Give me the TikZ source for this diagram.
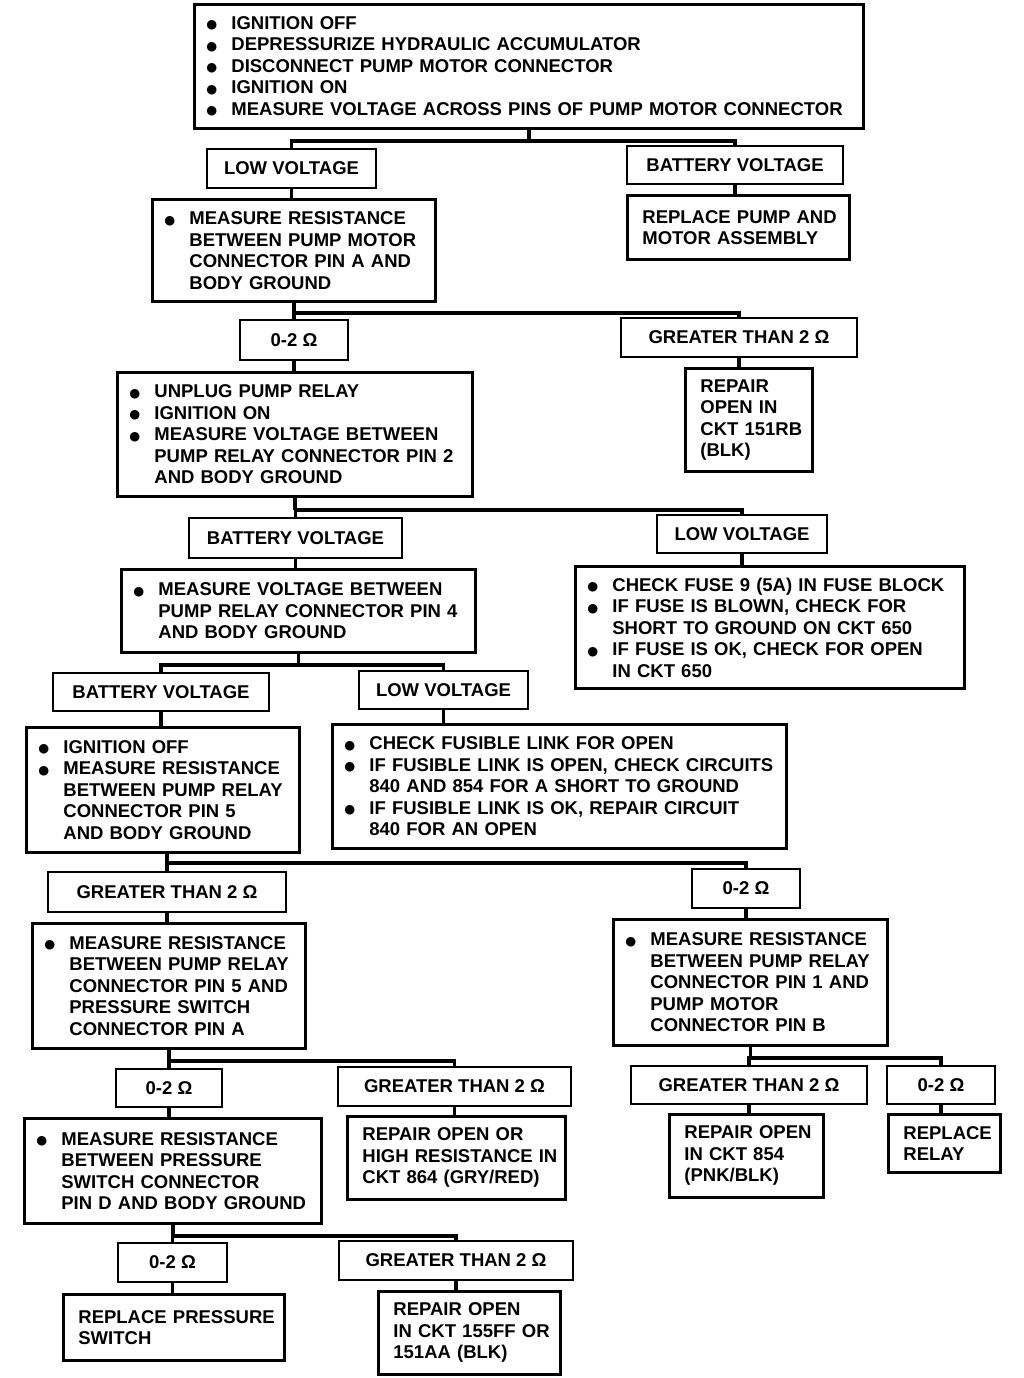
\documentclass[tikz,border=0pt]{standalone}
\usepackage{fontspec}
\setmainfont{Liberation Sans}
\newfontfamily\symfont{DejaVu Sans}
\newcommand{\dfont}{\fontsize{18.5}{21.5}\selectfont\bfseries}
\newcommand{\bul}{\makebox[25pt][l]{\raisebox{0.5pt}{\fontsize{12.5}{12.5}\selectfont\symfont ●}}}
\newcommand{\ind}{\hspace*{25pt}}
\tikzset{
  box/.style={draw, line width=2.8pt, anchor=north west, align=left,
    inner xsep=12pt, inner ysep=0pt, font=\dfont,
    execute at begin node={\rightskip=-40pt plus 1fil\hyphenpenalty=10000\relax}},
  note/.style={box, inner xsep=15pt},
  lab/.style={draw, line width=2.8pt, inner sep=0pt, font=\dfont},
  link/.style={line width=3.6pt}
}
\begin{document}
\begin{tikzpicture}[x=1pt,y=-1pt]
\fill[white](0,0) rectangle (1024,1378);
\useasboundingbox(0,0) rectangle (1024,1378);
% first step
\node[box, text width=645pt, minimum height=124pt] (top) at (193,3)
  {\bul IGNITION OFF\\
   \bul DEPRESSURIZE HYDRAULIC ACCUMULATOR\\
   \bul DISCONNECT PUMP MOTOR CONNECTOR\\
   \bul IGNITION ON\\
   \bul MEASURE VOLTAGE ACROSS PINS OF PUMP MOTOR CONNECTOR};
\node[lab, minimum width=169pt, minimum height=39pt] (lv1) at (291.5,168.5) {LOW VOLTAGE};
\node[lab, minimum width=216pt, minimum height=38pt] (bv1) at (735,165) {BATTERY VOLTAGE};
\node[box, text width=259pt, minimum height=102pt] (m1) at (151,198)
  {\bul MEASURE RESISTANCE\\
   \ind BETWEEN PUMP MOTOR\\
   \ind CONNECTOR PIN A AND\\
   \ind BODY GROUND};
\node[note, text width=192pt, minimum height=64pt] (r1) at (626,194)
  {REPLACE PUMP AND\\ MOTOR ASSEMBLY};
% pin A
\node[lab, minimum width=108pt, minimum height=40pt] (lo1) at (294,340) {0-2 Ω};
\node[lab, minimum width=236pt, minimum height=39pt] (hi1) at (739,337.5) {GREATER THAN 2 Ω};
\node[box, text width=331pt, minimum height=124pt] (m2) at (116,371)
  {\bul UNPLUG PUMP RELAY\\
   \bul IGNITION ON\\
   \bul MEASURE VOLTAGE BETWEEN\\
   \ind PUMP RELAY CONNECTOR PIN 2\\
   \ind AND BODY GROUND};
\node[note, text width=97pt, minimum height=103pt] (r2) at (684,367)
  {REPAIR\\ OPEN IN\\ CKT 151RB\\ (BLK)};
% pin 2
\node[lab, minimum width=213pt, minimum height=40pt] (bv2) at (295.5,538) {BATTERY VOLTAGE};
\node[lab, minimum width=170pt, minimum height=38pt] (lv2) at (742,534) {LOW VOLTAGE};
\node[box, text width=330pt, minimum height=83pt] (m3) at (120,568)
  {\bul MEASURE VOLTAGE BETWEEN\\
   \ind PUMP RELAY CONNECTOR PIN 4\\
   \ind AND BODY GROUND};
\node[box, text width=365pt, minimum height=122pt] (f1) at (574,565)
  {\bul CHECK FUSE 9 (5A) IN FUSE BLOCK\\
   \bul IF FUSE IS BLOWN, CHECK FOR\\
   \ind SHORT TO GROUND ON CKT 650\\
   \bul IF FUSE IS OK, CHECK FOR OPEN\\
   \ind IN CKT 650};
% pin 4
\node[lab, minimum width=216pt, minimum height=38pt] (bv3) at (161,692) {BATTERY VOLTAGE};
\node[lab, minimum width=169pt, minimum height=38pt] (lv3) at (443.5,690) {LOW VOLTAGE};
\node[box, text width=249pt, minimum height=125pt] (m4) at (25,726)
  {\bul IGNITION OFF\\
   \bul MEASURE RESISTANCE\\
   \ind BETWEEN PUMP RELAY\\
   \ind CONNECTOR PIN 5\\
   \ind AND BODY GROUND};
\node[box, text width=430pt, minimum height=124pt] (f2) at (331,723)
  {\bul CHECK FUSIBLE LINK FOR OPEN\\
   \bul IF FUSIBLE LINK IS OPEN, CHECK CIRCUITS\\
   \ind 840 AND 854 FOR A SHORT TO GROUND\\
   \bul IF FUSIBLE LINK IS OK, REPAIR CIRCUIT\\
   \ind 840 FOR AN OPEN};
% pin 5
\node[lab, minimum width=238pt, minimum height=40pt] (hi2) at (167,892) {GREATER THAN 2 Ω};
\node[lab, minimum width=108pt, minimum height=39pt] (lo2) at (746,888.5) {0-2 Ω};
\node[box, text width=249pt, minimum height=125pt] (m5) at (31,922)
  {\bul MEASURE RESISTANCE\\
   \ind BETWEEN PUMP RELAY\\
   \ind CONNECTOR PIN 5 AND\\
   \ind PRESSURE SWITCH\\
   \ind CONNECTOR PIN A};
\node[box, text width=250pt, minimum height=126pt] (m6) at (612,918)
  {\bul MEASURE RESISTANCE\\
   \ind BETWEEN PUMP RELAY\\
   \ind CONNECTOR PIN 1 AND\\
   \ind PUMP MOTOR\\
   \ind CONNECTOR PIN B};
% pressure switch and relay
\node[lab, minimum width=106pt, minimum height=38pt] (lo3) at (169,1088) {0-2 Ω};
\node[lab, minimum width=233pt, minimum height=39pt] (hi3) at (454.5,1086.5) {GREATER THAN 2 Ω};
\node[lab, minimum width=236pt, minimum height=38pt] (hi4) at (749,1085) {GREATER THAN 2 Ω};
\node[lab, minimum width=108pt, minimum height=38pt] (lo4) at (941,1085) {0-2 Ω};
\node[box, text width=273pt, minimum height=105pt] (m7) at (23,1117)
  {\bul MEASURE RESISTANCE\\
   \ind BETWEEN PRESSURE\\
   \ind SWITCH CONNECTOR\\
   \ind PIN D AND BODY GROUND};
\node[note, text width=188pt, minimum height=83pt] (r3) at (346,1115)
  {REPAIR OPEN OR\\ HIGH RESISTANCE IN\\ CKT 864 (GRY/RED)};
\node[note, text width=124pt, minimum height=83pt] (r4) at (668,1113)
  {REPAIR OPEN\\ IN CKT 854\\ (PNK/BLK)};
\node[note, text width=82pt, minimum height=58pt] (r5) at (887,1113)
  {REPLACE\\ RELAY};
% pin D
\node[lab, minimum width=109pt, minimum height=39pt] (lo5) at (172.5,1262.5) {0-2 Ω};
\node[lab, minimum width=234pt, minimum height=39pt] (hi5) at (456,1260.5) {GREATER THAN 2 Ω};
\node[note, text width=191pt, minimum height=66pt] (r6) at (62,1293)
  {REPLACE PRESSURE\\ SWITCH};
\node[note, text width=152pt, minimum height=83pt] (r7) at (377,1290)
  {REPAIR OPEN\\ IN CKT 155FF OR\\ 151AA (BLK)};
% branches
\draw[link](top.south) -- ++(0,11) coordinate (j1);
\draw[link](lv1.north) |- (j1) -| (bv1.north);
\draw[link](m1.south) -- ++(0,10) coordinate (j2);
\draw[link](lo1.north) |- (j2) -| (hi1.north);
\draw[link](m2.south) -- ++(0,12) coordinate (j3);
\draw[link](bv2.north) |- (j3) -| (lv2.north);
\draw[link](m3.south) -- ++(0,11) coordinate (j4);
\draw[link](bv3.north) |- (j4) -| (lv3.north);
\draw[link](m4.south -| hi2.north) -- ++(0,9) coordinate (j5);
\draw[link](hi2.north) |- (j5) -| (lo2.north);
\draw[link](m5.south) -- ++(0,11) coordinate (j6);
\draw[link](lo3.north) |- (j6) -| (hi3.north);
\draw[link](m6.south) -- ++(0,11) coordinate (j7);
\draw[link](hi4.north) |- (j7) -| (lo4.north);
\draw[link](m7.south) -- ++(0,11) coordinate (j8);
\draw[link](lo5.north) |- (j8) -| (hi5.north);
% single steps
\foreach \a/\b in {lv1/m1,bv1/r1,lo1/m2,hi1/r2,bv2/m3,lv2/f1,bv3/m4,lv3/f2,
  hi2/m5,lo2/m6,lo3/m7,hi3/r3,hi4/r4,lo4/r5,lo5/r6,hi5/r7}
  \draw[link](\a.south) -- (\a.south |- \b.north);
\end{tikzpicture}
\end{document}
